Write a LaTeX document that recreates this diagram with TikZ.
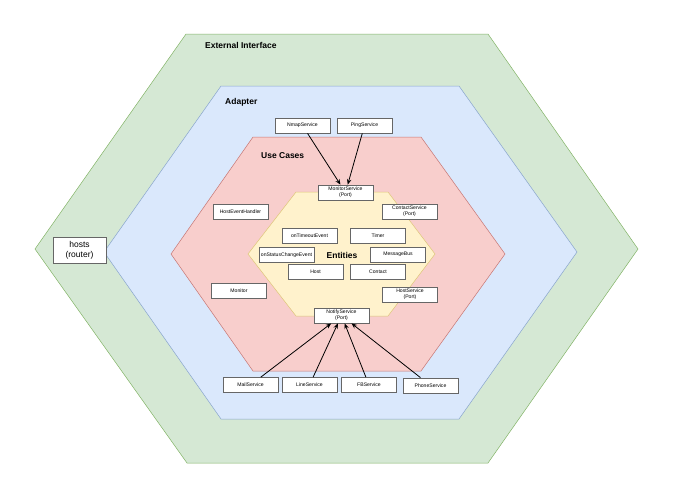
\documentclass[tikz,border=0pt]{standalone}
\usepackage{fontspec}
\setmainfont{Liberation Sans}
\usepackage{tikz}
\usetikzlibrary{arrows.meta}

\definecolor{extfill}{HTML}{D5E8D4}
\definecolor{extline}{HTML}{82B366}
\definecolor{adpfill}{HTML}{DAE8FC}
\definecolor{adpline}{HTML}{6C8EBF}
\definecolor{ucfill}{HTML}{F8CECC}
\definecolor{ucline}{HTML}{B85450}
\definecolor{entfill}{HTML}{FFF2CC}
\definecolor{entline}{HTML}{D6B656}
\definecolor{boxline}{HTML}{666666}

\begin{document}
\begin{tikzpicture}[x=1pt,y=-1pt,
  box/.style={draw=boxline,fill=white,line width=0.8pt,minimum width=55pt,minimum height=15pt,inner sep=0pt,align=center,font=\fontsize{5.1}{6.2}\selectfont},
  layer/.style={font=\fontsize{8.5}{10}\selectfont\bfseries,anchor=west,inner sep=0pt},
  link/.style={-{Stealth[length=5.5pt,width=4.5pt]},line width=0.8pt}]
\useasboundingbox (0,0) rectangle (691,480);
% layers
\draw[fill=extfill,draw=extline,line width=0.5pt] (35,249) -- (186,34) -- (488,34) -- (638,249) -- (488,463) -- (187,463) -- cycle;
\draw[fill=adpfill,draw=adpline!80,line width=0.5pt] (104,252) -- (221,86) -- (459,86) -- (577,252) -- (459,419) -- (221,419) -- cycle;
\draw[fill=ucfill,draw=ucline!80,line width=0.5pt] (171,254) -- (253,137) -- (421,137) -- (505,254) -- (421,371) -- (253,371) -- cycle;
\draw[fill=entfill,draw=entline!80,line width=0.5pt] (248,254) -- (296,192) -- (388,192) -- (435,254) -- (388,316) -- (296,316) -- cycle;
\node[layer] (extlabel) at (205,45) {External Interface};
\node[layer] (adplabel) at (225,102) {Adapter};
\node[layer] (uclabel) at (261,156) {Use Cases};
\node[layer,anchor=center] (entlabel) at (342,255) {Entities};
% boxes
\node[box,minimum width=53pt,minimum height=26pt,font=\fontsize{8.5}{10}\selectfont] (hosts) at (79.5,250) {hosts\\(router)};
\node[box] (nmap) at (302.5,125.5) {NmapService};
\node[box] (ping) at (364.5,125.5) {PingService};
\node[box] (monitorport) at (345.5,192.5) {MonitorService\\(Port)};
\node[box] (hosthandler) at (240.5,212) {HostEventHandler};
\node[box] (contactport) at (409.5,211.5) {ContactService\\(Port)};
\node[box] (timeoutev) at (309.5,236) {onTimeoutEvent};
\node[box] (timer) at (378,236) {Timer};
\node[box] (statusev) at (286.5,255) {onStatusChangeEvent};
\node[box] (msgbus) at (398,254.5) {MessageBus};
\node[box] (host) at (315.5,272) {Host};
\node[box] (contact) at (378,272) {Contact};
\node[box] (monitor) at (239,290.5) {Monitor};
\node[box] (hostport) at (410,294.5) {HostService\\(Port)};
\node[box] (notifyport) at (341.5,315.5) {NotifyService\\(Port)};
\node[box] (mail) at (250.5,385) {MailService};
\node[box] (line) at (309.5,385) {LineService};
\node[box] (fb) at (369,385) {FBService};
\node[box] (phone) at (430.5,385.5) {PhoneService};
% connectors
\foreach \from/\to in {nmap/monitorport,ping/monitorport,mail/notifyport,line/notifyport,fb/notifyport,phone/notifyport}
  \draw[link] (\from) -- (\to);
\end{tikzpicture}
\end{document}
